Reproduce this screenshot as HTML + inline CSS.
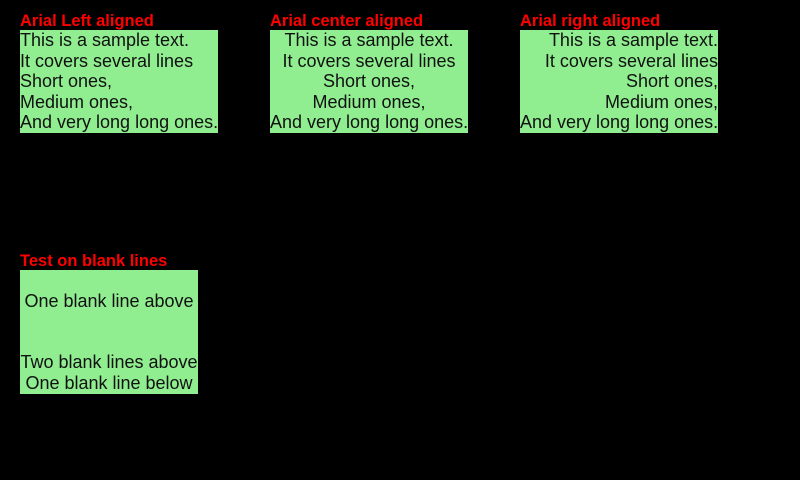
<!DOCTYPE html>
<html><head><meta charset="utf-8"><style>
html,body{margin:0;padding:0;background:#000;width:800px;height:480px;overflow:hidden}
.t{position:absolute;color:#f00;font:bold 16.5px/20px "Liberation Sans",sans-serif;white-space:nowrap}
.b{position:absolute;background:#90ee90;color:#111;font:18px/20.6px "Liberation Sans",sans-serif;white-space:pre}
</style></head><body>
<div class="t" style="left:20px;top:11px">Arial Left aligned</div>
<div class="t" style="left:270px;top:11px">Arial center aligned</div>
<div class="t" style="left:520px;top:11px">Arial right aligned</div>
<div class="b" style="left:20px;top:30px;width:198px;height:103px;text-align:left">This is a sample text.
It covers several lines
Short ones,
Medium ones,
And very long long ones.</div>
<div class="b" style="left:270px;top:30px;width:198px;height:103px;text-align:center">This is a sample text.
It covers several lines
Short ones,
Medium ones,
And very long long ones.</div>
<div class="b" style="left:520px;top:30px;width:198px;height:103px;text-align:right">This is a sample text.
It covers several lines
Short ones,
Medium ones,
And very long long ones.</div>
<div class="t" style="left:20px;top:251px">Test on blank lines</div>
<div class="b" style="left:20px;top:270px;width:178px;height:124px;text-align:center"> 
One blank line above
 
 
Two blank lines above
One blank line below</div>
</body></html>
